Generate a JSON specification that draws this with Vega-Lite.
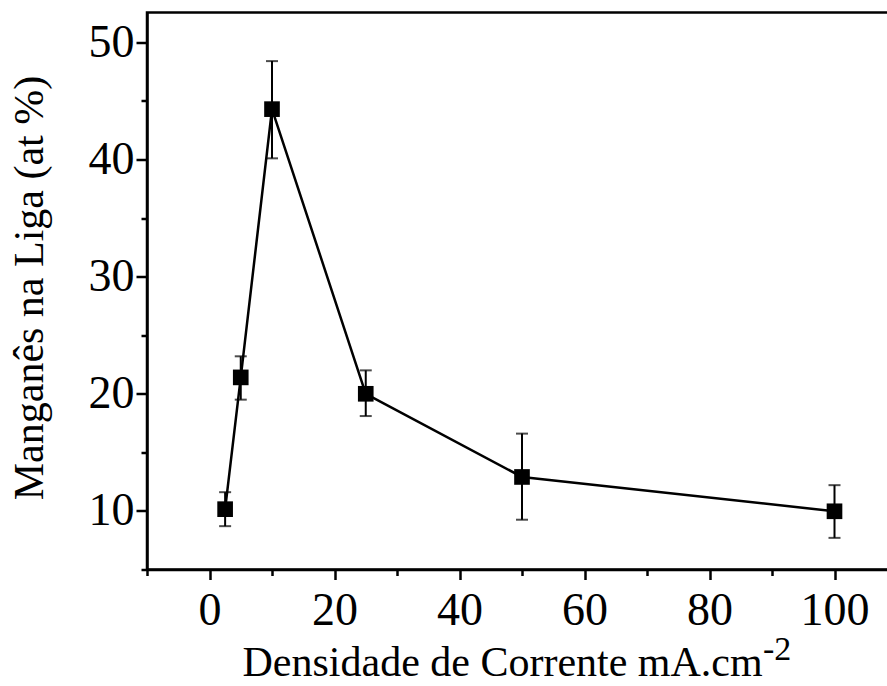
{
  "$schema": "https://vega.github.io/schema/vega-lite/v6.json",
  "autosize": {"type": "none"},
  "padding": {"left": 147, "top": 12.5, "right": 0, "bottom": 116.5},
  "width": 750,
  "height": 557,
  "background": "white",
  "config": {
    "view": {"stroke": "black", "strokeWidth": 2.5},
    "axis": {
      "grid": false,
      "domainColor": "black",
      "domainWidth": 2.5,
      "tickColor": "black",
      "tickWidth": 2.5,
      "labelFont": "Liberation Serif",
      "labelFontSize": 46,
      "labelColor": "black",
      "titleFont": "Liberation Serif",
      "titleFontSize": 42,
      "titleFontWeight": "normal",
      "titleColor": "black"
    }
  },
  "title": {
    "text": "-2",
    "orient": "bottom",
    "anchor": "start",
    "frame": "group",
    "font": "Liberation Serif",
    "fontSize": 34,
    "fontWeight": "normal",
    "color": "black",
    "baseline": "alphabetic",
    "dx": 616,
    "dy": -24,
    "offset": 0
  },
  "data": {
    "values": [
      {"d": 2.5, "mn": 10.15, "lo": 8.7, "hi": 11.6},
      {"d": 5, "mn": 21.4, "lo": 19.5, "hi": 23.2},
      {"d": 10, "mn": 44.3, "lo": 40.1, "hi": 48.4},
      {"d": 25, "mn": 20.0, "lo": 18.1, "hi": 22.0},
      {"d": 50, "mn": 12.9, "lo": 9.25, "hi": 16.6},
      {"d": 100, "mn": 9.97, "lo": 7.7, "hi": 12.2}
    ]
  },
  "encoding": {
    "x": {
      "field": "d",
      "type": "quantitative",
      "scale": {"domain": [-10, 110], "nice": false, "zero": false},
      "axis": {
        "title": "Densidade de Corrente mA.cm",
        "titleAlign": "left",
        "titleBaseline": "alphabetic",
        "titleX": 95,
        "titleY": 106,
        "values": [-10, 0, 10, 20, 30, 40, 50, 60, 70, 80, 90, 100, 110],
        "labelExpr": "datum.value % 20 === 0 ? datum.label : ''",
        "tickSize": {"condition": {"test": "datum.value % 20 === 0", "value": 10}, "value": 6},
        "labelPadding": 9,
        "labelFlush": false,
        "labelOverlap": false
      }
    },
    "y": {
      "field": "mn",
      "type": "quantitative",
      "scale": {"domain": [5, 52.55], "nice": false, "zero": false},
      "axis": {
        "title": "Manganês na Liga (at %)",
        "titleAngle": -90,
        "titleAlign": "center",
        "titleBaseline": "alphabetic",
        "titleX": -105,
        "titleY": 275,
        "values": [5, 10, 15, 20, 25, 30, 35, 40, 45, 50],
        "labelExpr": "datum.value % 10 === 0 ? datum.label : ''",
        "tickSize": {"condition": {"test": "datum.value % 10 === 0", "value": 11}, "value": 6},
        "labelPadding": 2,
        "labelFlush": false,
        "labelOverlap": false
      }
    }
  },
  "layer": [
    {"mark": {"type": "line", "color": "black", "strokeWidth": 2.5}},
    {
      "mark": {"type": "rule", "color": "black", "strokeWidth": 2},
      "encoding": {"y": {"field": "lo", "type": "quantitative"}, "y2": {"field": "hi"}}
    },
    {
      "mark": {"type": "tick", "orient": "horizontal", "color": "black", "size": 12, "thickness": 2},
      "encoding": {"y": {"field": "lo", "type": "quantitative"}}
    },
    {
      "mark": {"type": "tick", "orient": "horizontal", "color": "black", "size": 12, "thickness": 2},
      "encoding": {"y": {"field": "hi", "type": "quantitative"}}
    },
    {"mark": {"type": "point", "shape": "square", "filled": true, "color": "black", "opacity": 1, "size": 245}}
  ]
}
